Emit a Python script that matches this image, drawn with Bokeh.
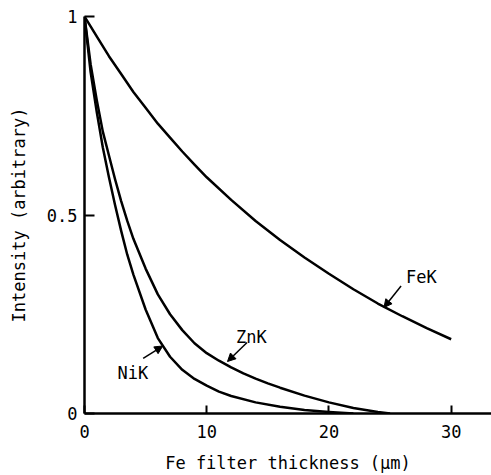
from bokeh.plotting import figure
from bokeh.models import Range1d, FixedTicker, Label, Arrow, NormalHead
from bokeh.embed import file_html
from bokeh.resources import INLINE

# Data
fek_x = [0, 1, 2, 3, 4, 5, 6, 7, 8, 9, 10, 12, 14, 16, 18, 20, 22, 24, 26, 28, 30]
fek_y = [1.0, 0.95, 0.90, 0.855, 0.81, 0.77, 0.73, 0.695, 0.66, 0.627, 0.595, 0.538, 0.485,
         0.437, 0.393, 0.352, 0.313, 0.277, 0.245, 0.215, 0.187]

znk_x = [0, 0.5, 1, 1.5, 2, 2.5, 3, 3.5, 4, 5, 6, 7, 8, 9, 10, 11, 12, 13, 14, 15, 16, 18,
         20, 22, 24, 25]
znk_y = [1.0, 0.88, 0.79, 0.71, 0.65, 0.59, 0.535, 0.485, 0.44, 0.365, 0.30, 0.25, 0.21,
         0.177, 0.152, 0.133, 0.116, 0.101, 0.088, 0.076, 0.065, 0.045, 0.028, 0.014, 0.004, 0.0]

nik_x = [0, 0.5, 1, 1.5, 2, 2.5, 3, 3.5, 4, 5, 6, 7, 8, 9, 10, 11, 12, 14, 16, 18, 20, 22]
nik_y = [1.0, 0.86, 0.76, 0.67, 0.595, 0.525, 0.46, 0.40, 0.35, 0.262, 0.19, 0.143, 0.11,
         0.087, 0.07, 0.055, 0.044, 0.028, 0.017, 0.009, 0.004, 0.0]

x_ticks = [0, 10, 20, 30]
y_ticks = [0, 0.5, 1]
y_tick_labels = {0: "0", 0.5: "0.5", 1: "1"}

FONT = "DejaVu Sans Mono"

p = figure(width=491, height=475, output_backend="svg", toolbar_location=None,
           x_range=Range1d(0, 33.3), y_range=Range1d(0, 1),
           min_border_left=84, min_border_right=0, min_border_top=16, min_border_bottom=62)
p.outline_line_color = None
p.grid.visible = False
p.background_fill_color = "white"

for xs, ys in ((fek_x, fek_y), (znk_x, znk_y), (nik_x, nik_y)):
    p.line(xs, ys, line_color="black", line_width=2.5, line_join="round")

p.xaxis.ticker = FixedTicker(ticks=x_ticks)
p.yaxis.ticker = FixedTicker(ticks=y_ticks)
p.yaxis.major_label_overrides = y_tick_labels
p.xaxis.axis_label = "Fe filter thickness (\u03bcm)"
p.yaxis.axis_label = "Intensity (arbitrary)"

for ax in (p.xaxis, p.yaxis):
    ax.axis_line_width = 2.5
    ax.axis_line_color = "black"
    ax.major_tick_line_color = "black"
    ax.major_tick_line_width = 2
    ax.major_tick_out = 0
    ax.minor_tick_line_color = None
    ax.major_label_text_font = FONT
    ax.major_label_text_font_size = "17px"
    ax.major_label_text_color = "black"
    ax.axis_label_text_font = FONT
    ax.axis_label_text_font_size = "17px"
    ax.axis_label_text_font_style = "normal"
    ax.axis_label_text_color = "black"

p.xaxis.major_tick_in = 8
p.yaxis.major_tick_in = 10
p.xaxis.major_label_standoff = 11
p.yaxis.major_label_standoff = 7
p.xaxis.axis_label_standoff = 12
p.yaxis.axis_label_standoff = 15

labels = [("FeK", 26.3, 0.343), ("ZnK", 12.4, 0.192), ("NiK", 2.7, 0.101)]
for t, lx, ly in labels:
    p.add_layout(Label(x=lx, y=ly, text=t, text_font=FONT, text_font_size="17px",
                       text_color="black", text_baseline="alphabetic"))

arrows = [(25.9, 0.321, 24.5, 0.267), (13.3, 0.179, 11.7, 0.131), (4.8, 0.139, 6.4, 0.17)]
for xs_, ys_, xe, ye in arrows:
    p.add_layout(Arrow(x_start=xs_, y_start=ys_, x_end=xe, y_end=ye, line_width=1.5,
                       line_color="black",
                       end=NormalHead(size=8, fill_color="black", line_color="black")))

open("out.html", "w").write(file_html(p, INLINE))
